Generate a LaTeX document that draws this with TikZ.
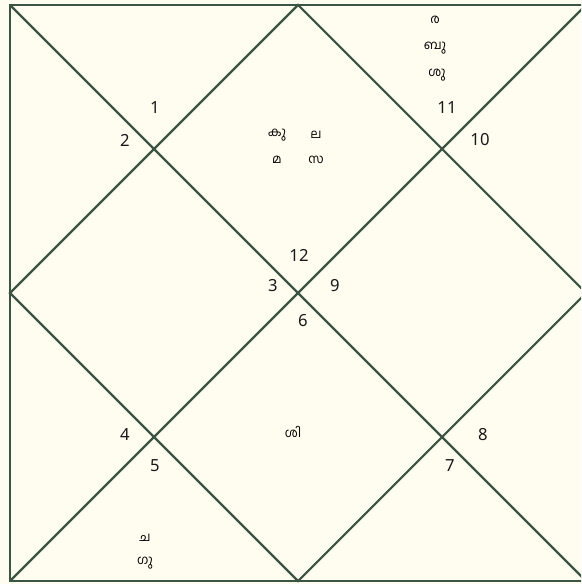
\documentclass[tikz,border=0pt]{standalone}
\usepackage{fontspec}
\setmainfont{Noto Sans}
\newfontfamily\malfont[Script=Malayalam]{Hind Kochi}
\definecolor{chartline}{HTML}{3B5443}
\definecolor{chartbg}{HTML}{FFFDF0}
\tikzset{
    houseline/.style={line width=1.6pt,draw=chartline},
    housenum/.style={font=\fontsize{12.5}{14}\selectfont,text=black!90,inner sep=0pt},
    planet/.style={font=\malfont\fontsize{9.5}{11}\selectfont,text=black,inner sep=0pt}
}
\begin{document}
\begin{tikzpicture}[x=0.75pt,y=-0.75pt]
  \useasboundingbox (0,0) rectangle (581,584);
  \clip (0,0) rectangle (581,584);
  \fill[chartbg] (0,0) rectangle (581,584);

  % corners and middles of the square
  \coordinate (TL) at (10,5);
  \coordinate (TR) at (586,5);
  \coordinate (BR) at (586,581);
  \coordinate (BL) at (10,581);
  \coordinate (T) at (298,5);
  \coordinate (R) at (586,293);
  \coordinate (B) at (298,581);
  \coordinate (L) at (10,293);

  \draw[houseline] (TL)--(TR)--(BR)--(BL)--cycle;
  \draw[houseline] (TL)--(BR);
  \draw[houseline] (TR)--(BL);
  \draw[houseline] (T)--(R)--(B)--(L)--cycle;

  % house numbers
  \foreach \n/\x/\y in {1/155/108,2/125/140,3/273/286,4/125/435,5/155/466,6/303/321,
                        7/450/466,8/483/435,9/335/286,10/480/140,11/447/108,12/299/255}{
    \node[housenum] (h\n) at (\x,\y) {\n};
  }

  % planets
  \node[planet] (ra) at (435,20) {ര};
  \node[planet] (bu) at (435,48) {ബു};
  \node[planet] (sk) at (437,75) {ശു};
  \node[planet] (ku) at (277,135) {കു};
  \node[planet] (la) at (316,135) {ല};
  \node[planet] (ma) at (277,160) {മ};
  \node[planet] (su) at (316,160) {സ};
  \node[planet] (sa) at (293,432) {ശി};
  \node[planet] (ca) at (145,538) {ച};
  \node[planet] (gu) at (145,563) {ഗു};
\end{tikzpicture}
\end{document}
